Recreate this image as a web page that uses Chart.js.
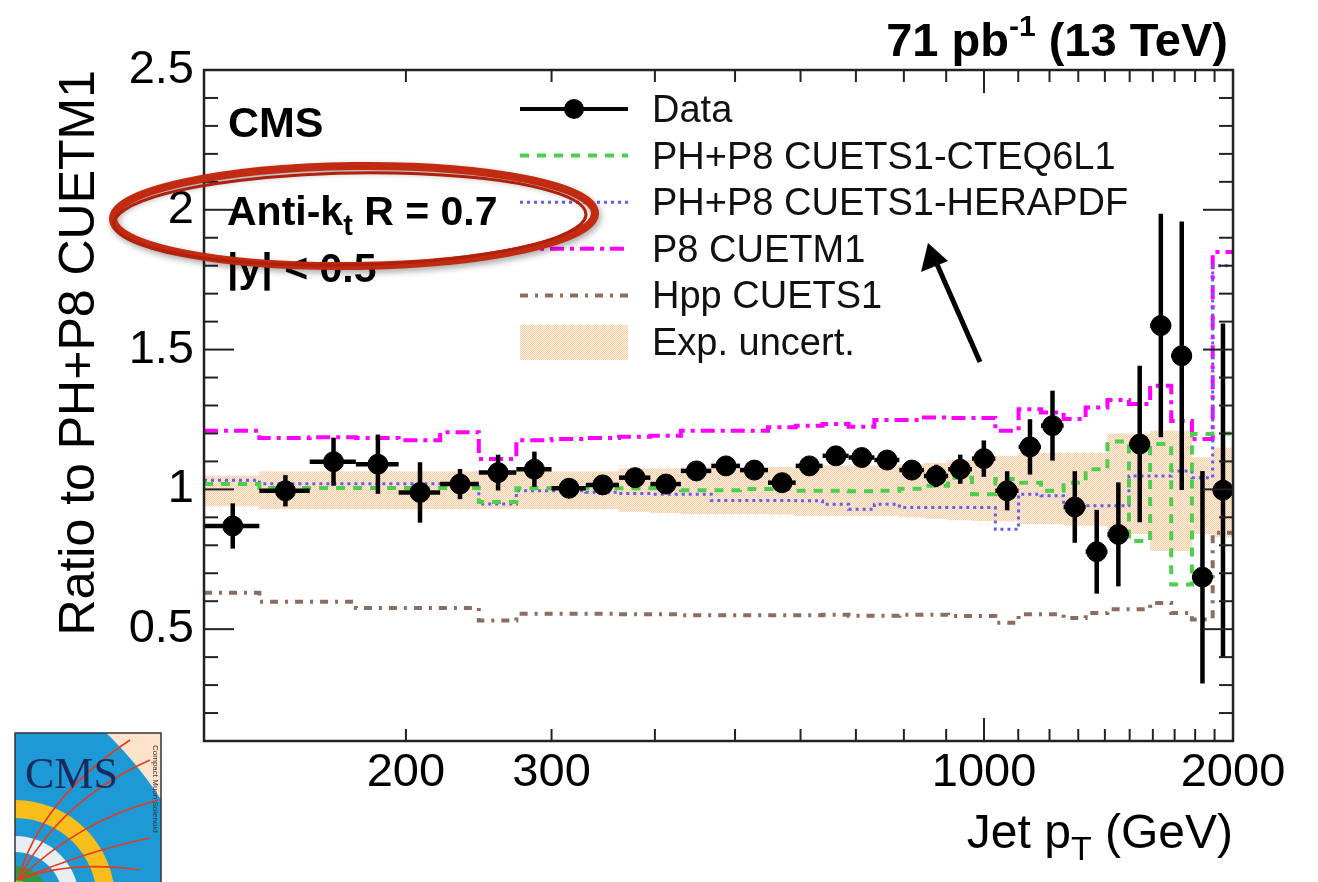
<!DOCTYPE html>
<html>
<head>
<meta charset="utf-8">
<title>Ratio to PH+P8 CUETM1</title>
<script src="https://cdn.jsdelivr.net/npm/chart.js@4.4.1/dist/chart.umd.min.js"></script>
<style>
  html, body { margin: 0; padding: 0; background: #fff; }
  canvas { display: block; }
</style>
</head>
<body>
<canvas id="ratioChart" width="1318" height="882"></canvas>
<script>
// jet pT bin edges (GeV)
const binEdges = [114, 133, 153, 174, 196, 220, 245, 272, 300, 330, 362, 395, 430, 468, 507, 548,
  592, 638, 686, 737, 790, 846, 905, 967, 1032, 1101, 1172, 1248, 1327, 1410, 1497, 1588, 1684,
  1784, 1890, 2000];

// data / PH+P8 CUETM1
const dataRatio = [0.869, 0.995, 1.099, 1.09, 0.989, 1.019, 1.06, 1.072, 1.004, 1.016, 1.042,
  1.019, 1.066, 1.084, 1.069, 1.024, 1.084, 1.12, 1.114, 1.105, 1.069, 1.048, 1.072, 1.11,
  0.995, 1.152, 1.228, 0.937, 0.777, 0.839, 1.162, 1.586, 1.478, 0.686, 0.997];
const dataErr = [0.081, 0.056, 0.086, 0.106, 0.108, 0.054, 0.064, 0.063, 0.012, 0.015, 0.015,
  0.015, 0.015, 0.018, 0.018, 0.02, 0.02, 0.022, 0.022, 0.025, 0.03, 0.04, 0.052, 0.065,
  0.07, 0.099, 0.125, 0.128, 0.15, 0.186, 0.28, 0.40, 0.48, 0.38, 0.596];

// predictions / PH+P8 CUETM1
const cteqRatio = [1.019, 1.005, 1.005, 1.005, 1.005, 1.005, 0.955, 1.004, 1.004, 1.004, 1.004,
  1.004, 0.997, 0.997, 1.001, 1.001, 0.995, 0.995, 0.993, 0.995, 1.002, 1.013, 1.042, 0.983,
  1.037, 1.024, 0.995, 1.024, 1.072, 1.171, 0.815, 1.162, 0.66, 1.198, 1.2];
const heraRatio = [1.033, 1.02, 1.02, 1.02, 1.02, 1.02, 0.948, 0.995, 0.995, 0.99, 0.985,
  0.983, 0.983, 0.96, 0.96, 0.96, 0.959, 0.947, 0.929, 0.947, 0.935, 0.935, 0.935, 0.935,
  0.857, 0.983, 0.977, 0.941, 0.941, 0.941, 1.048, 1.048, 1.066, 1.042, 1.80];
const p8Ratio = [1.21, 1.184, 1.186, 1.184, 1.176, 1.204, 1.109, 1.176, 1.18, 1.184, 1.188,
  1.192, 1.21, 1.21, 1.21, 1.222, 1.228, 1.234, 1.224, 1.248, 1.248, 1.257, 1.255, 1.255,
  1.21, 1.287, 1.275, 1.252, 1.293, 1.32, 1.305, 1.371, 1.245, 1.18, 1.849];
const hppRatio = [0.63, 0.598, 0.598, 0.576, 0.576, 0.576, 0.531, 0.555, 0.555, 0.555, 0.553,
  0.553, 0.55, 0.55, 0.55, 0.55, 0.55, 0.552, 0.548, 0.548, 0.552, 0.552, 0.547, 0.547,
  0.523, 0.553, 0.553, 0.54, 0.558, 0.571, 0.571, 0.594, 0.558, 0.535, 0.845];

// experimental uncertainty band
const uncertLow = [0.94, 0.93, 0.93, 0.93, 0.93, 0.93, 0.93, 0.93, 0.93, 0.93, 0.92, 0.915,
  0.912, 0.912, 0.912, 0.91, 0.905, 0.905, 0.905, 0.905, 0.9, 0.895, 0.89, 0.887, 0.885,
  0.875, 0.875, 0.87, 0.87, 0.84, 0.84, 0.78, 0.78, 0.84, 0.83];
const uncertHigh = [1.05, 1.065, 1.065, 1.065, 1.065, 1.065, 1.065, 1.065, 1.065, 1.065, 1.075,
  1.075, 1.078, 1.078, 1.078, 1.08, 1.085, 1.085, 1.085, 1.085, 1.09, 1.095, 1.105, 1.11,
  1.12, 1.13, 1.13, 1.13, 1.13, 1.2, 1.2, 1.21, 1.21, 1.115, 1.15];

const xTickLabels = [200, 300, 1000, 2000];
const yTickLabels = [0.5, 1, 1.5, 2, 2.5];

const FONT = "'Liberation Sans', Arial, Helvetica, sans-serif";

// histogram outline: two points per bin
function steps(values) {
  const pts = [];
  values.forEach((v, i) => {
    pts.push({ x: binEdges[i], y: v });
    pts.push({ x: binEdges[i + 1], y: v });
  });
  return pts;
}

const dataPoints = dataRatio.map((v, i) => ({ x: (binEdges[i] + binEdges[i + 1]) / 2, y: v }));

const canvas = document.getElementById("ratioChart");
const ctx = canvas.getContext("2d");

// dotted orange fill like the ROOT hatch
const tile = document.createElement("canvas");
tile.width = 2;
tile.height = 2;
const tctx = tile.getContext("2d");
tctx.fillStyle = "#fff0e4";
tctx.fillRect(0, 0, 2, 2);
tctx.fillStyle = "#fbcba4";
tctx.fillRect(0, 0, 1, 1);
tctx.fillRect(1, 1, 1, 1);
const bandFill = ctx.createPattern(tile, "repeat");

function line(c, x1, y1, x2, y2) {
  c.beginPath();
  c.moveTo(x1, y1);
  c.lineTo(x2, y2);
  c.stroke();
}

// text with sub/superscripts: parts = [{t, s, b, dy}]
function richText(c, parts, x, y, align) {
  let w = 0;
  parts.forEach(p => {
    c.font = (p.b ? "bold " : "") + p.s + "px " + FONT;
    p.w = c.measureText(p.t).width;
    w += p.w;
  });
  let cx = align === "right" ? x - w : x;
  c.textAlign = "left";
  c.textBaseline = "alphabetic";
  parts.forEach(p => {
    c.font = (p.b ? "bold " : "") + p.s + "px " + FONT;
    c.fillText(p.t, cx, y + (p.dy || 0));
    cx += p.w;
  });
}

const errorBars = {
  id: "errorBars",
  afterDatasetsDraw(chart) {
    const { ctx: c, scales: { x, y } } = chart;
    c.save();
    c.strokeStyle = "#000";
    c.lineWidth = 4.5;
    dataRatio.forEach((v, i) => {
      const px = x.getPixelForValue((binEdges[i] + binEdges[i + 1]) / 2);
      const py = y.getPixelForValue(v);
      line(c, x.getPixelForValue(binEdges[i]), py, x.getPixelForValue(binEdges[i + 1]), py);
      line(c, px, y.getPixelForValue(v - dataErr[i]), px, y.getPixelForValue(v + dataErr[i]));
    });
    c.restore();
  }
};

const frameTicks = {
  id: "frameTicks",
  afterDraw(chart) {
    const { ctx: c, chartArea: a, scales: { x, y } } = chart;
    c.save();
    c.strokeStyle = "#222";
    c.lineWidth = 2;
    for (let k = 1; k <= 25; k++) {
      const py = y.getPixelForValue(k / 10);
      const len = k % 5 === 0 ? 30 : 14;
      line(c, a.left, py, a.left + len, py);
      line(c, a.right, py, a.right - len, py);
    }
    for (let v = 200; v < 2000; v += 100) {
      const px = x.getPixelForValue(v);
      const len = v === 1000 ? 23 : 12;
      line(c, px, a.bottom, px, a.bottom - len);
      line(c, px, a.top, px, a.top + len);
    }
    c.lineWidth = 2.5;
    c.strokeRect(a.left, a.top, a.right - a.left, a.bottom - a.top);
    c.restore();
  }
};

function drawLogo(c) {
  const x0 = 15, y0 = 733, w = 146, h = 160;
  c.save();
  c.beginPath();
  c.rect(x0, y0, w, h);
  c.clip();
  c.fillStyle = "#fde3cb";
  c.fillRect(x0, y0, w, h);
  c.fillStyle = "#1d9ad6";
  c.beginPath();
  c.arc(-150, 1000, 370, 0, Math.PI * 2);
  c.fill();
  const rings = [[100, "#f8bf1c"], [82, "#1d9ad6"], [64, "#e9eef2"], [48, "#1d9ad6"], [34, "#2e9a46"], [20, "#8cc63f"]];
  rings.forEach(([r, col]) => {
    c.fillStyle = col;
    c.beginPath();
    c.arc(x0, 900, r, 0, Math.PI * 2);
    c.fill();
  });
  c.strokeStyle = "#e23b1d";
  c.lineWidth = 1.6;
  [[60, 800, 150, 760], [80, 820, 158, 800], [90, 850, 150, 838], [70, 860, 140, 870], [40, 800, 130, 740]].forEach(([cx1, cy1, ex, ey]) => {
    c.beginPath();
    c.moveTo(x0 + 3, 880);
    c.quadraticCurveTo(cx1, cy1, ex, ey);
    c.stroke();
  });
  c.fillStyle = "#1b2a5c";
  c.font = "44px 'Liberation Serif', 'DejaVu Serif', serif";
  c.textAlign = "left";
  c.textBaseline = "alphabetic";
  c.fillText("CMS", x0 + 10, y0 + 55);
  c.save();
  c.translate(x0 + w - 8, y0 + 12);
  c.rotate(Math.PI / 2);
  c.font = "8px " + FONT;
  c.fillStyle = "#333";
  c.fillText("Compact Muon Solenoid", 0, 0);
  c.restore();
  c.restore();
  c.strokeStyle = "#333";
  c.lineWidth = 1.5;
  c.strokeRect(x0, y0, w, h);
}

const annotations = {
  id: "annotations",
  afterDraw(chart) {
    const c = chart.ctx;
    const a = chart.chartArea;
    const sets = chart.data.datasets;
    c.save();
    c.fillStyle = "#000";

    richText(c, [{ t: "71 pb", s: 47, b: true }, { t: "-1", s: 30, b: true, dy: -20 },
      { t: " (13 TeV)", s: 47, b: true }], 1228, 56, "right");
    richText(c, [{ t: "Jet p", s: 48 }, { t: "T", s: 34, dy: 12 }, { t: " (GeV)", s: 48 }],
      a.right, 848, "right");

    richText(c, [{ t: "CMS", s: 43, b: true }], 228, 137);
    richText(c, [{ t: "Anti-k", s: 41, b: true }, { t: "t", s: 29, b: true, dy: 10 },
      { t: " R = 0.7", s: 41, b: true }], 227, 225);
    richText(c, [{ t: "|y| < 0.5", s: 41, b: true }], 227, 282);

    // legend
    const rows = [0, 1, 2, 3, 4, 6];
    rows.forEach((di, r) => {
      const ds = sets[di];
      const cy = 109 + r * 46.6;
      c.save();
      if (di === 6) {
        c.fillStyle = bandFill;
        c.fillRect(520, cy - 17, 108, 35);
      } else {
        c.strokeStyle = di === 0 ? "#000" : ds.borderColor;
        c.lineWidth = di === 0 ? 4 : ds.borderWidth;
        c.setLineDash(di === 0 ? [] : ds.borderDash);
        line(c, 520, cy, 628, cy);
        if (di === 0) {
          c.fillStyle = "#000";
          c.beginPath();
          c.arc(574, cy, 10, 0, Math.PI * 2);
          c.fill();
        }
      }
      c.restore();
      c.fillStyle = "#111";
      richText(c, [{ t: ds.label, s: 38 }], 652, cy + 13);
    });

    // hand-drawn red ellipse
    c.save();
    c.shadowColor = "rgba(0,0,0,0.35)";
    c.shadowBlur = 6;
    c.shadowOffsetX = 2;
    c.shadowOffsetY = 3;
    c.strokeStyle = "#c22a12";
    c.lineWidth = 8;
    c.beginPath();
    c.ellipse(354, 216, 241, 50, -0.012, 0, Math.PI * 2);
    c.stroke();
    c.shadowColor = "transparent";
    c.strokeStyle = "#b0200c";
    c.lineWidth = 3;
    c.beginPath();
    c.ellipse(350, 219, 236, 46, -0.02, 0.3, Math.PI * 2.1);
    c.stroke();
    c.restore();

    // arrow
    c.strokeStyle = "#000";
    c.fillStyle = "#000";
    c.lineWidth = 5;
    line(c, 980, 362, 936, 262);
    c.beginPath();
    c.moveTo(928, 243);
    c.lineTo(921, 272);
    c.lineTo(948, 261);
    c.closePath();
    c.fill();

    drawLogo(c);
    c.restore();
  }
};

new Chart(ctx, {
  type: "scatter",
  data: {
    datasets: [
      {
        label: "Data",
        data: dataPoints,
        pointRadius: 10,
        pointHoverRadius: 10,
        pointBackgroundColor: "#000",
        pointBorderColor: "#000",
        order: 0
      },
      {
        label: "PH+P8 CUETS1-CTEQ6L1",
        data: steps(cteqRatio),
        showLine: true,
        borderColor: "#4ccf4c",
        borderWidth: 4,
        borderDash: [9, 8],
        pointRadius: 0,
        order: 1
      },
      {
        label: "PH+P8 CUETS1-HERAPDF",
        data: steps(heraRatio),
        showLine: true,
        borderColor: "#5f5ff0",
        borderWidth: 3,
        borderDash: [3, 4],
        pointRadius: 0,
        order: 2
      },
      {
        label: "P8 CUETM1",
        data: steps(p8Ratio),
        showLine: true,
        borderColor: "#ff00ff",
        borderWidth: 4,
        borderDash: [14, 6, 4, 6],
        pointRadius: 0,
        order: 3
      },
      {
        label: "Hpp CUETS1",
        data: steps(hppRatio),
        showLine: true,
        borderColor: "#8c6e60",
        borderWidth: 4,
        borderDash: [8, 7, 3, 7],
        pointRadius: 0,
        order: 4
      },
      {
        label: "uncertLow",
        data: steps(uncertLow),
        showLine: true,
        borderColor: "rgba(0,0,0,0)",
        borderWidth: 1,
        pointRadius: 0,
        fill: false,
        order: 6
      },
      {
        label: "Exp. uncert.",
        data: steps(uncertHigh),
        showLine: true,
        borderColor: "rgba(0,0,0,0)",
        borderWidth: 1,
        pointRadius: 0,
        fill: "-1",
        backgroundColor: bandFill,
        order: 5
      }
    ]
  },
  options: {
    responsive: false,
    animation: false,
    devicePixelRatio: 1,
    layout: { padding: { left: 0, right: 85, top: 70, bottom: 0 } },
    plugins: { legend: { display: false }, tooltip: { enabled: false } },
    scales: {
      x: {
        type: "logarithmic",
        min: 114,
        max: 2000,
        bounds: "data",
        grid: { display: false, drawTicks: false },
        border: { display: false },
        afterBuildTicks: s => { s.ticks = xTickLabels.map(v => ({ value: v })); },
        afterFit: s => { s.height = 141; },
        ticks: {
          autoSkip: false,
          maxRotation: 0,
          padding: 4,
          color: "#000",
          font: { family: FONT, size: 47 },
          callback: v => String(v)
        }
      },
      y: {
        type: "linear",
        min: 0.1,
        max: 2.5,
        bounds: "data",
        grid: { display: false, drawTicks: false },
        border: { display: false },
        afterBuildTicks: s => { s.ticks = yTickLabels.map(v => ({ value: v })); },
        afterFit: s => { s.width = 204; },
        ticks: {
          padding: 10,
          color: "#000",
          font: { family: FONT, size: 47 },
          callback: v => String(v)
        },
        title: {
          display: true,
          text: "Ratio to PH+P8 CUETM1",
          align: "end",
          color: "#000",
          font: { family: FONT, size: 50 },
          padding: { top: 50, bottom: 0 }
        }
      }
    }
  },
  plugins: [errorBars, frameTicks, annotations]
});
</script>
</body>
</html>
